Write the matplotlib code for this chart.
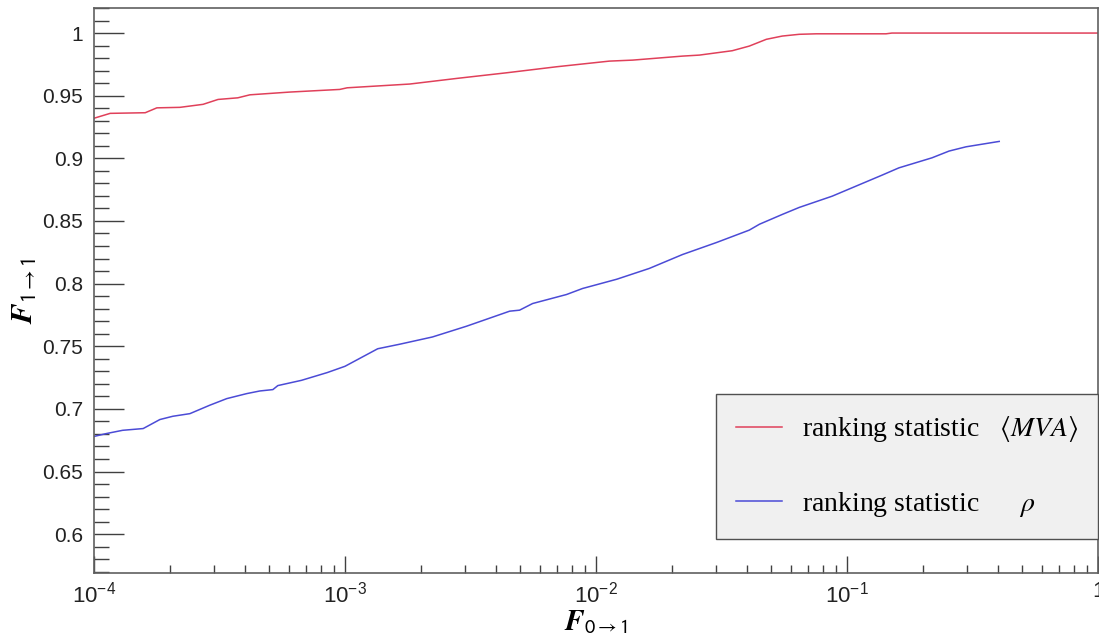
import matplotlib
matplotlib.use("Agg")
import math
import matplotlib.pyplot as plt
from matplotlib.ticker import MultipleLocator, LogLocator, FuncFormatter, NullFormatter

plt.rcParams['font.family'] = ['Liberation Sans', 'DejaVu Sans']
plt.rcParams['mathtext.fontset'] = 'stix'

# ranking statistic <MVA>
mva_x = [1.0e-4, 1.16e-4, 1.60e-4, 1.78e-4, 2.20e-4, 2.72e-4, 3.12e-4, 3.74e-4, 4.18e-4,
         6.03e-4, 9.53e-4, 1.02e-3, 1.81e-3, 2.79e-3, 4.41e-3, 6.97e-3, 1.13e-2, 1.40e-2,
         2.21e-2, 2.58e-2, 3.49e-2, 4.08e-2, 4.77e-2, 5.52e-2, 6.45e-2, 7.55e-2, 0.143,
         0.151, 1.0]
mva_y = [0.932, 0.9359, 0.9364, 0.9403, 0.9407, 0.9431, 0.9470, 0.9483, 0.9507,
         0.9529, 0.9550, 0.9563, 0.9593, 0.9638, 0.9683, 0.9731, 0.9776, 0.9784,
         0.9816, 0.9824, 0.9859, 0.9896, 0.9950, 0.9976, 0.9990, 0.9994, 0.9994,
         1.0, 1.0]

# ranking statistic rho
rho_x = [1.0e-4, 1.12e-4, 1.30e-4, 1.57e-4, 1.83e-4, 2.06e-4, 2.41e-4, 2.89e-4, 3.38e-4,
         4.06e-4, 4.58e-4, 5.16e-4, 5.40e-4, 6.71e-4, 8.5e-4, 1.0e-3, 1.35e-3, 1.65e-3,
         2.23e-3, 3.05e-3, 4.53e-3, 4.96e-3, 5.59e-3, 7.63e-3, 8.84e-3, 1.21e-2, 1.63e-2,
         2.21e-2, 3.02e-2, 4.08e-2, 4.48e-2, 5.52e-2, 6.45e-2, 8.73e-2, 0.138, 0.161,
         0.218, 0.255, 0.298, 0.404]
rho_y = [0.678, 0.6803, 0.6829, 0.6843, 0.6915, 0.6941, 0.6962, 0.7029, 0.7082,
         0.7122, 0.7143, 0.7154, 0.7186, 0.7228, 0.729, 0.734, 0.748, 0.7516,
         0.7574, 0.7660, 0.7780, 0.7788, 0.7841, 0.7913, 0.7961, 0.8035, 0.8121,
         0.8232, 0.8328, 0.8427, 0.8474, 0.8552, 0.8608, 0.8698, 0.8866, 0.8924,
         0.9004, 0.9058, 0.9092, 0.9135]

labels = [r'ranking statistic   $\langle MVA\rangle$', r'ranking statistic      $\rho$']
colors = ['#e0405a', '#4b4bd6']

fig = plt.figure(figsize=(10.99, 6.37), dpi=100)
ax = fig.add_axes([94/1099, 64/637, 1004/1099, 565/637])

ax.plot(mva_x, mva_y, color=colors[0], lw=1.1, label=labels[0])
ax.plot(rho_x, rho_y, color=colors[1], lw=1.1, label=labels[1])

ax.set_xscale('log')
ax.set_xlim(1e-4, 1)
ax.set_ylim(0.569, 1.02)

ax.yaxis.set_major_locator(MultipleLocator(0.05))
ax.yaxis.set_minor_locator(MultipleLocator(0.01))
ax.yaxis.set_major_formatter(FuncFormatter(lambda v, p: ('%.2f' % v).rstrip('0').rstrip('.')))
ax.xaxis.set_major_locator(LogLocator(base=10, numticks=10))
ax.xaxis.set_minor_locator(LogLocator(base=10, subs=range(2, 10), numticks=20))
ax.xaxis.set_minor_formatter(NullFormatter())


def xfmt(v, p):
    e = int(round(math.log10(v)))
    if e == 0:
        return '1'
    return r'$\mathdefault{10^{%d}}$' % e


ax.xaxis.set_major_formatter(FuncFormatter(xfmt))

ax.tick_params(axis='both', which='both', direction='in', colors='#404040',
               labelcolor='#222222', width=1.0)
ax.tick_params(axis='y', which='major', length=21.6, pad=8, labelsize=15)
ax.tick_params(axis='y', which='minor', length=10.8)
ax.tick_params(axis='x', which='major', length=12, pad=6, labelsize=16)
ax.tick_params(axis='x', which='minor', length=6)

for s in ax.spines.values():
    s.set_color('#606060')
    s.set_linewidth(1.2)

ax.set_xlabel(r'$\mathbfit{F}_{\mathsf{0\rightarrow 1}}$', fontsize=21, va='bottom')
ax.xaxis.set_label_coords(0.5, -0.1115)
ax.set_ylabel(r'$\mathbfit{F}_{\mathsf{1\rightarrow 1}}$', fontsize=22)
ax.yaxis.set_label_coords(-0.054, 0.5)

leg = ax.legend(loc='lower left', bbox_to_anchor=(0.6195, 0.060, 0.3805, 0.257),
                mode='expand', borderaxespad=0, fancybox=False, framealpha=1,
                facecolor='#f0f0f0', edgecolor='#505050',
                prop={'family': 'Liberation Serif', 'size': 20},
                handlelength=1.65, handletextpad=0.72, labelspacing=1.65, borderpad=0.72)
leg.get_frame().set_linewidth(1.0)

fig.savefig('out.png', dpi=100)
